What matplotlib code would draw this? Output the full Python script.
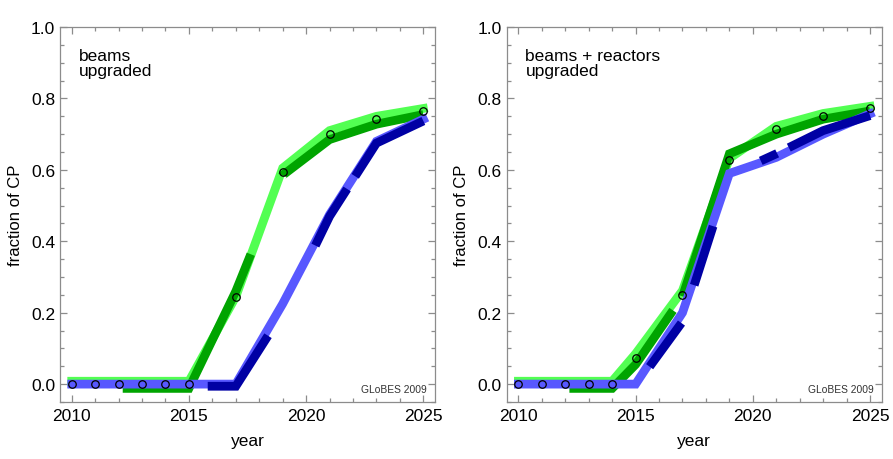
import matplotlib
matplotlib.use("Agg")
import matplotlib.pyplot as plt
from matplotlib.ticker import MultipleLocator

plt.rcParams['font.family'] = ['Liberation Sans', 'DejaVu Sans']
plt.rcParams['lines.scale_dashes'] = False

# years of the simulation points
years = [2010, 2011, 2012, 2013, 2014, 2015, 2017, 2019, 2021, 2023, 2025]

# left panel: beams upgraded
left_points = [0.0, 0.0, 0.0, 0.0, 0.0, 0.0, 0.245, 0.595, 0.700, 0.742, 0.765]
left_green_light = [0.008, 0.008, 0.008, 0.008, 0.008, 0.008, 0.245, 0.605, 0.710, 0.750, 0.772]
left_green_dark = [-0.012, -0.012, -0.012, -0.012, -0.012, -0.012, 0.260, 0.585, 0.685, 0.728, 0.755]
left_blue_light = [0.0, 0.0, 0.0, 0.0, 0.0, 0.0, 0.0, 0.225, 0.475, 0.680, 0.742]
left_blue_dark = [-0.006, -0.006, -0.006, -0.006, -0.006, -0.006, -0.006, 0.200, 0.470, 0.675, 0.737]

# right panel: beams + reactors upgraded
right_points = [0.0, 0.0, 0.0, 0.0, 0.0, 0.072, 0.250, 0.628, 0.714, 0.750, 0.772]
right_green_light = [0.008, 0.008, 0.008, 0.008, 0.008, 0.085, 0.262, 0.632, 0.722, 0.758, 0.778]
right_green_dark = [-0.012, -0.012, -0.012, -0.012, -0.012, 0.055, 0.245, 0.645, 0.700, 0.742, 0.765]
right_blue_light = [0.0, 0.0, 0.0, 0.0, 0.0, 0.0, 0.200, 0.590, 0.635, 0.700, 0.757]
right_blue_dark = [-0.005, -0.005, -0.005, -0.005, -0.005, -0.005, 0.175, 0.585, 0.645, 0.710, 0.752]

LIGHT_GREEN = '#52ff52'
DARK_GREEN = '#00a400'
LIGHT_BLUE = '#5858ff'
DARK_BLUE = '#0000a4'
GRAY = '#8c8c8c'
LW = 6.3  # thick lines, ~9 px


def px(seq):
    # dash lengths measured in pixels -> points
    return [v * 0.72 for v in seq]


def dash_style(seq):
    seq = px(seq)
    # start with the last "off" segment
    return (sum(seq[:-1]), seq)


def draw_panel(ax, title, pts, g_light, g_dark, b_light, b_dark, g_dash, b_dash):
    ax.plot(years, g_light, color=LIGHT_GREEN, lw=LW, solid_joinstyle='miter', zorder=2)
    ax.plot(years, g_dark, color=DARK_GREEN, lw=LW, linestyle=dash_style(g_dash),
            dash_capstyle='butt', dash_joinstyle='miter', zorder=3)
    ax.plot(years, b_light, color=LIGHT_BLUE, lw=LW, solid_joinstyle='miter', zorder=4)
    ax.plot(years, b_dark, color=DARK_BLUE, lw=LW, linestyle=dash_style(b_dash),
            dash_capstyle='butt', dash_joinstyle='miter', zorder=5)
    ax.plot(years, pts, linestyle='none', marker='o', ms=5.4, mfc='none',
            mec='black', mew=0.9, zorder=6)

    ax.set_xlim(2009.5, 2025.5)
    ax.set_ylim(-0.05, 1.0)
    ax.xaxis.set_major_locator(MultipleLocator(5))
    ax.xaxis.set_minor_locator(MultipleLocator(1))
    ax.yaxis.set_major_locator(MultipleLocator(0.2))
    ax.yaxis.set_minor_locator(MultipleLocator(0.05))
    ax.set_yticks([0.0, 0.2, 0.4, 0.6, 0.8, 1.0])
    ax.set_yticklabels(['0.0', '0.2', '0.4', '0.6', '0.8', '1.0'])

    ax.tick_params(which='both', direction='in', top=True, right=True, color=GRAY,
                   width=0.9, labelsize=12.5)
    ax.tick_params(which='major', length=5)
    ax.tick_params(which='minor', length=3)
    ax.tick_params(axis='x', pad=4.5)
    ax.tick_params(axis='y', pad=3.5)
    for sp in ax.spines.values():
        sp.set_color(GRAY)
        sp.set_linewidth(0.9)

    ax.set_xlabel('year', fontsize=12.5, labelpad=7)
    ax.set_ylabel('fraction of CP', fontsize=12, labelpad=6)

    ax.text(0.05, 0.945, title, transform=ax.transAxes, ha='left', va='top',
            fontsize=12.5, linespacing=1.05)
    ax.text(0.979, 0.035, 'GLoBES 2009', transform=ax.transAxes, ha='right',
            va='center', fontsize=7.4, color='#333333')


fig = plt.figure(figsize=(8.93, 4.60), dpi=100)
ax1 = fig.add_axes([0.0672, 0.124, 0.420, 0.815])
ax2 = fig.add_axes([0.5674, 0.124, 0.420, 0.815])

draw_panel(ax1, 'beams\nupgraded', left_points,
           left_green_light, left_green_dark, left_blue_light, left_blue_dark,
           g_dash=[214, 85, 1000, 51],
           b_dash=[88, 102, 65, 15, 1000, 136])

draw_panel(ax2, 'beams + reactors\nupgraded', right_points,
           right_green_light, right_green_dark, right_blue_light, right_blue_dark,
           g_dash=[142, 17, 1000, 51],
           b_dash=[54, 40, 62, 88, 18, 13, 1000, 141])

fig.savefig('out.png', dpi=100)
